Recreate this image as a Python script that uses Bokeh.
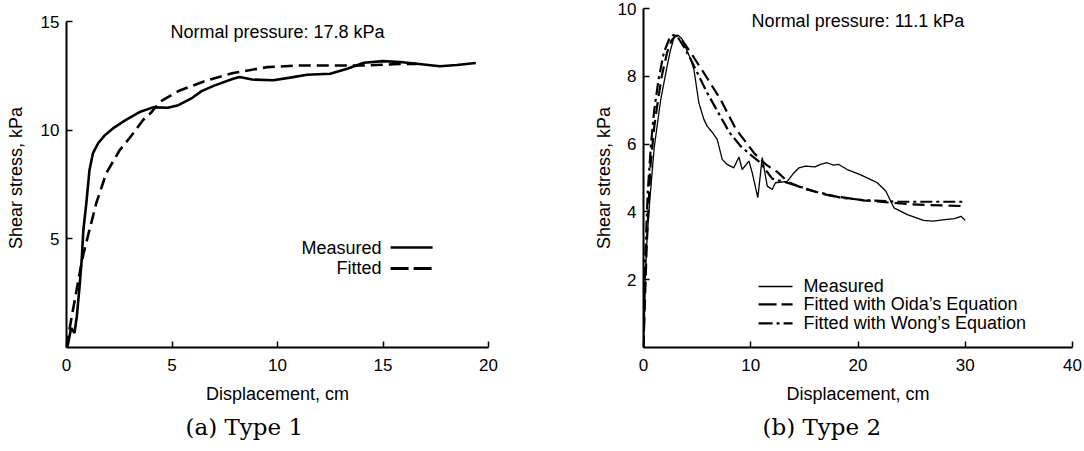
from bokeh.plotting import figure
from bokeh.models import FixedTicker, Label, Title, Arrow, Range1d
from bokeh.layouts import row
from bokeh.embed import file_html
from bokeh.resources import INLINE

# ---------------- Panel (a): Type 1, normal pressure 17.8 kPa ----------------
a_meas_x = [0, 0.06, 0.22, 0.38, 0.49, 0.62, 0.72, 0.8, 0.94, 1.09, 1.25, 1.5, 1.8,
            2.2, 2.8, 3.5, 4.1, 4.8, 5.3, 5.9, 6.4, 7.0, 7.9, 8.2, 8.8, 9.8, 10.6,
            11.4, 12.5, 13.3, 14.1, 15.0, 15.8, 16.6, 17.7, 18.5, 19.4]
a_meas_y = [0, 0.1, 0.9, 0.67, 1.44, 2.81, 4.04, 5.41, 6.64, 8.17, 8.93, 9.4, 9.75,
            10.08, 10.46, 10.85, 11.05, 11.03, 11.15, 11.45, 11.8, 12.05, 12.37, 12.45,
            12.33, 12.3, 12.42, 12.55, 12.6, 12.83, 13.1, 13.18, 13.14, 13.06, 12.94,
            13.0, 13.09]
a_fit_x = [0, 0.22, 0.38, 0.6, 0.8, 1.09, 1.41, 1.88, 2.52, 3.0, 3.62, 4.0, 4.42,
           5.37, 6.64, 7.9, 9.49, 11.07, 12.7, 14.3, 15.8, 16.6]
a_fit_y = [0, 1.28, 2.12, 3.3, 4.3, 5.41, 6.64, 8.01, 9.08, 9.65, 10.46, 10.8, 11.3,
           11.83, 12.29, 12.63, 12.9, 12.98, 12.98, 12.98, 13.05, 13.05]
a_x_ticks = [0, 5, 10, 15, 20]
a_y_ticks = [5, 10, 15]
a_legend = ["Measured", "Fitted"]

# ---------------- Panel (b): Type 2, normal pressure 11.1 kPa ----------------
b_meas_x = [0, 0.15, 0.35, 0.55, 0.8, 1.0, 1.3, 1.6, 1.9, 2.2, 2.5, 2.85, 3.2, 3.6,
            4.0, 4.4, 4.7, 5.16, 5.63, 5.94, 6.4, 6.87, 7.34, 7.8, 8.42, 8.9, 9.2,
            9.83, 10.14, 10.66, 11.07, 11.54, 12.0, 12.3, 13.4, 14.02, 14.5, 15.1,
            16.0, 16.5, 17.1, 17.7, 18.2, 19.0, 20.2, 21.2, 21.8, 22.6, 23.35, 24.6,
            26.1, 27.0, 28.3, 29.0, 29.6, 30.0]
b_meas_y = [0, 2.0, 3.3, 4.2, 5.15, 5.9, 6.6, 7.3, 7.8, 8.3, 8.75, 9.15, 9.22, 9.1,
            8.8, 8.5, 8.2, 7.22, 6.73, 6.53, 6.35, 6.14, 5.55, 5.4, 5.3, 5.62, 5.25,
            5.5, 5.15, 4.42, 5.6, 4.76, 4.66, 4.86, 4.9, 5.15, 5.3, 5.35, 5.33, 5.4,
            5.45, 5.38, 5.4, 5.25, 5.1, 4.95, 4.86, 4.61, 4.12, 3.92, 3.75, 3.73,
            3.78, 3.8, 3.87, 3.75]
b_oida_x = [0, 0.3, 0.65, 1.0, 1.27, 1.7, 2.2, 2.6, 3.0, 3.4, 3.76, 4.6, 5.63, 7.18,
            8.6, 10.3, 11.4, 12.47, 13.5, 15.0, 17.4, 20.5, 25.0, 30.0]
b_oida_y = [0, 3.0, 5.35, 6.5, 7.12, 8.0, 8.7, 9.05, 9.2, 9.15, 8.99, 8.6, 8.1, 7.32,
            6.45, 5.74, 5.4, 5.18, 4.88, 4.68, 4.48, 4.34, 4.22, 4.17]
b_wong_x = [0, 0.15, 0.4, 0.7, 1.0, 1.4, 1.9, 2.4, 2.8, 3.2, 3.8, 4.4, 5.1, 5.94,
            7.2, 8.0, 9.05, 10.0, 10.9, 12.0, 13.4, 15.9, 18.4, 20.5, 23.7, 27.0, 30.0]
b_wong_y = [0, 2.6, 4.6, 6.0, 7.0, 7.9, 8.7, 9.1, 9.22, 9.15, 8.85, 8.5, 8.05, 7.51,
            6.8, 6.35, 5.94, 5.68, 5.45, 4.98, 4.86, 4.61, 4.42, 4.35, 4.3, 4.3, 4.3]
b_x_ticks = [0, 10, 20, 30, 40]
b_y_ticks = [2, 4, 6, 8, 10]
b_legend = ["Measured", "Fitted with Oida\u2019s Equation",
            "Fitted with Wong\u2019s Equation"]

SANS = "Liberation Sans"


def style(p, xt, yt, xlab, ylab, ylab_standoff):
    p.xgrid.visible = False
    p.ygrid.visible = False
    p.outline_line_color = None
    p.background_fill_color = None
    p.border_fill_color = None
    for ax in (p.xaxis[0], p.yaxis[0]):
        ax.axis_line_width = 2
        ax.axis_line_color = "black"
        ax.major_tick_in = 6
        ax.major_tick_out = 0
        ax.major_tick_line_width = 1.5
        ax.major_tick_line_color = "black"
        ax.minor_tick_line_color = None
        ax.major_label_text_font = SANS
        ax.major_label_text_font_size = "17px"
        ax.major_label_text_color = "black"
        ax.axis_label_text_font = SANS
        ax.axis_label_text_font_size = "18px"
        ax.axis_label_text_font_style = "normal"
        ax.axis_label_text_color = "black"
    p.xaxis[0].ticker = FixedTicker(ticks=xt)
    p.yaxis[0].ticker = FixedTicker(ticks=yt)
    p.xaxis[0].axis_label = xlab
    p.yaxis[0].axis_label = ylab
    p.xaxis[0].major_label_standoff = 11
    p.xaxis[0].axis_label_standoff = 10
    p.yaxis[0].major_label_standoff = 7
    p.yaxis[0].axis_label_standoff = ylab_standoff


def caption(text):
    return Title(text=text, align="left", offset=119, text_font="DejaVu Serif",
                 text_font_size="23px", text_font_style="normal",
                 text_color="black", standoff=11)


def text(p, x, y, s, align="left"):
    p.add_layout(Label(x=x, y=y, text=s, text_align=align, text_baseline="middle",
                       text_font=SANS, text_font_size="18px", text_color="black"))


def sample(p, x0, x1, y, width, dash="solid"):
    p.add_layout(Arrow(end=None, x_start=x0, y_start=y, x_end=x1, y_end=y,
                       line_color="black", line_width=width, line_dash=dash))


# ---------------- figure (a) ----------------
pa = figure(width=540, height=448, x_range=Range1d(0, 20), y_range=Range1d(0, 15.6),
            output_backend="svg", toolbar_location=None, title=None,
            min_border_left=66, min_border_right=52, min_border_top=8,
            min_border_bottom=101)
style(pa, a_x_ticks, a_y_ticks, "Displacement, cm", "Shear stress, kPa", 12)
pa.yaxis[0].bounds = (0, 15)
pa.line(a_meas_x, a_meas_y, line_color="black", line_width=2.6)
pa.line(a_fit_x, a_fit_y, line_color="black", line_width=2.6, line_dash="12 6")
pa.add_layout(Label(x=10, y=14.51, text="Normal pressure: 17.8 kPa",
                    text_align="center", text_baseline="middle",
                    text_font=SANS, text_font_size="18px", text_color="black"))
text(pa, 14.93, 4.6, a_legend[0], "right")
text(pa, 14.93, 3.64, a_legend[1], "right")
sample(pa, 15.36, 17.35, 4.6, 2.6)
sample(pa, 15.36, 17.35, 3.64, 3, "18 5")
pa.add_layout(caption("(a) Type 1"), "below")

# ---------------- figure (b) ----------------
pb = figure(width=542, height=448, x_range=Range1d(0, 40), y_range=Range1d(0, 10),
            output_backend="svg", toolbar_location=None, title=None,
            min_border_left=103, min_border_right=10, min_border_top=8,
            min_border_bottom=101)
style(pb, b_x_ticks, b_y_ticks, "Displacement, cm", "Shear stress, kPa", 1)
pb.line(b_meas_x, b_meas_y, line_color="black", line_width=1.3)
pb.line(b_oida_x, b_oida_y, line_color="black", line_width=2.2, line_dash="12 6")
pb.line(b_wong_x, b_wong_y, line_color="black", line_width=2.2, line_dash="12 4 3 4")
pb.add_layout(Label(x=20, y=9.63, text="Normal pressure: 11.1 kPa",
                    text_align="center", text_baseline="middle",
                    text_font=SANS, text_font_size="18px", text_color="black"))
for s, yy in zip(b_legend, [1.8, 1.27, 0.71]):
    text(pb, 14.93, yy, s, "left")
sample(pb, 10.73, 13.9, 1.8, 1.3)
sample(pb, 10.73, 13.9, 1.27, 2.2, "18 5")
sample(pb, 10.73, 13.9, 0.71, 2.2, "14 4 3 4")
pb.add_layout(caption("(b) Type 2"), "below")

layout = row(pa, pb)
open("out.html", "w").write(file_html(layout, INLINE))
